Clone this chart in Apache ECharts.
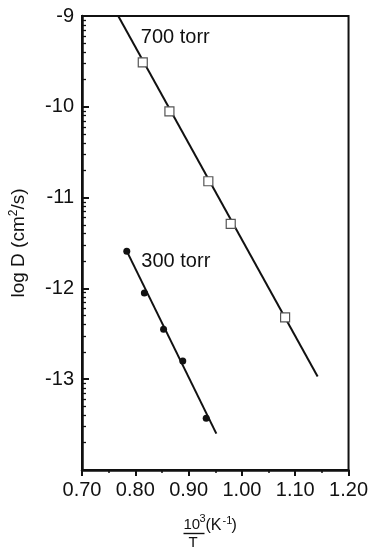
<!DOCTYPE html>
<html>
<head>
<meta charset="utf-8">
<title>log D vs 1000/T</title>
<script src="https://cdn.jsdelivr.net/npm/echarts@6/dist/echarts.min.js"></script>
<style>
  html, body { margin: 0; padding: 0; background: #fff; }
  #main { width: 371px; height: 554px; }
</style>
</head>
<body>
<div id="main"></div>
<script>
// measured points, 700 torr (open squares)
var x700 = [0.814, 0.864, 0.937, 0.979, 1.081];
var y700 = [-9.51, -10.05, -10.82, -11.29, -12.32];
// fitted line 700 torr (end points)
var fit700X = [0.768, 1.142];
var fit700Y = [-9.0, -12.97];

// measured points, 300 torr (filled dots)
var x300 = [0.784, 0.817, 0.853, 0.889, 0.933];
var y300 = [-11.59, -12.05, -12.45, -12.80, -13.43];
// fitted line 300 torr
var fit300X = [0.784, 0.952];
var fit300Y = [-11.59, -13.60];

// curve labels
var labelX = [0.801, 0.802];
var labelY = [-9.24, -11.70];
var labelText = ['700 torr', '300 torr'];

// axes
var xMin = 0.70, xMax = 1.20, xStep = 0.10;
var yMin = -14, yMax = -9, yStep = 1;

// log-style minor ticks inside each decade
var yMinorTicks = [];
for (var d = yMin; d < yMax; d++) {
    for (var k = 2; k <= 9; k++) {
        yMinorTicks.push(d + Math.log10(k));
    }
}

function pairs(xs, ys) {
    var out = [];
    for (var i = 0; i < xs.length; i++) out.push([xs[i], ys[i]]);
    return out;
}

var font = 'Liberation Sans, Arial, Helvetica, sans-serif';
var ink = '#111';

var chart = echarts.init(document.getElementById('main'), null, { renderer: 'canvas' });

var option = {
    backgroundColor: '#fff',
    animation: false,
    grid: {
        left: 80, right: 20, top: 16, bottom: 84,
        show: true, borderColor: ink, borderWidth: 2,
        containLabel: false
    },
    xAxis: {
        type: 'value',
        min: xMin, max: xMax, interval: xStep,
        axisLine: { show: true, lineStyle: { color: ink, width: 2.5 } },
        axisTick: { show: true, inside: false, length: 6, lineStyle: { color: ink, width: 2 } },
        minorTick: { show: true, splitNumber: 2, length: 3, lineStyle: { color: ink, width: 1.5 } },
        splitLine: { show: false },
        axisLabel: {
            fontFamily: font, fontSize: 20, color: ink, margin: 10,
            formatter: function (v) { return v.toFixed(2); }
        }
    },
    yAxis: [{
        type: 'value',
        min: yMin, max: yMax, interval: yStep,
        name: 'log D (cm{sup|2}/s)',
        nameLocation: 'middle',
        nameGap: 53,
        nameTextStyle: {
            fontFamily: font, fontSize: 19, color: ink,
            rich: { sup: { fontFamily: font, fontSize: 12, color: ink, padding: [0, 0, 9, 0] } }
        },
        axisLine: { show: true, lineStyle: { color: ink, width: 2.5 } },
        axisTick: { show: true, inside: true, length: 7, lineStyle: { color: ink, width: 2 } },
        splitLine: { show: false },
        axisLabel: {
            fontFamily: font, fontSize: 20, color: ink, margin: 8,
            showMinLabel: false
        }
    }, {
        type: 'value',
        min: yMin, max: yMax,
        position: 'left',
        axisLine: { show: false },
        axisLabel: { show: false },
        splitLine: { show: false },
        axisTick: {
            show: true, inside: true, length: 4,
            customValues: yMinorTicks,
            lineStyle: { color: ink, width: 1.3 }
        }
    }],
    graphic: [{
        type: 'group',
        left: 181,
        top: 513,
        children: [
            { type: 'text', x: 0, y: 5, style: { text: '10', font: '15px ' + font, fill: ink } },
            { type: 'text', x: 16, y: 1, style: { text: '3', font: '11px ' + font, fill: ink } },
            { type: 'line', shape: { x1: 0, y1: 21.5, x2: 21, y2: 21.5 }, style: { stroke: ink, lineWidth: 1.4 } },
            { type: 'text', x: 5, y: 23, style: { text: 'T', font: '15px ' + font, fill: ink } },
            { type: 'text', x: 22, y: 6, style: { text: '(K', font: '16px ' + font, fill: ink } },
            { type: 'text', x: 39, y: 3, style: { text: '-1', font: '11px ' + font, fill: ink } },
            { type: 'text', x: 48, y: 6, style: { text: ')', font: '16px ' + font, fill: ink } }
        ]
    }],
    series: [{
        name: 'fit700',
        type: 'line',
        data: pairs(fit700X, fit700Y),
        symbol: 'none',
        lineStyle: { color: ink, width: 2 },
        z: 2
    }, {
        name: '700 torr',
        type: 'scatter',
        data: pairs(x700, y700),
        symbol: 'rect',
        symbolSize: 9,
        itemStyle: { color: '#fff', borderColor: '#555', borderWidth: 1.2, opacity: 1 },
        z: 3
    }, {
        name: 'fit300',
        type: 'line',
        data: pairs(fit300X, fit300Y),
        symbol: 'none',
        lineStyle: { color: ink, width: 2 },
        z: 2
    }, {
        name: '300 torr',
        type: 'scatter',
        data: pairs(x300, y300),
        symbol: 'circle',
        symbolSize: 7,
        itemStyle: { color: ink, opacity: 1 },
        z: 3
    }, {
        name: 'labels',
        type: 'scatter',
        symbolSize: 0,
        itemStyle: { opacity: 1 },
        data: labelX.map(function (x, i) { return { value: [x, labelY[i]], name: labelText[i] }; }),
        label: {
            show: true, position: 'right', distance: 5,
            fontFamily: font, fontSize: 20, color: ink,
            formatter: function (p) { return p.name; }
        },
        silent: true,
        z: 4
    }]
};

chart.setOption(option);
</script>
</body>
</html>
